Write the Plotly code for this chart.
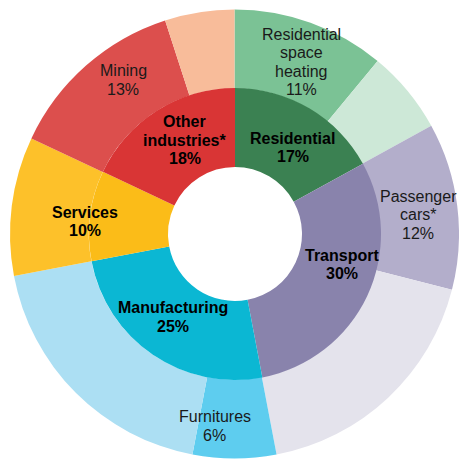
import math
import plotly.graph_objects as go

# ---------------- data ----------------
sector_labels = ["Residential", "Transport", "Manufacturing", "Services", "Other industries*"]
sector_display = ["Residential", "Transport", "Manufacturing", "Services", "Other<br>industries*"]
sector_values = [17, 30, 25, 10, 18]

sub_labels = ["Residential space heating", "Residential (other)", "Passenger cars*", "Transport (other)",
              "Furnitures", "Manufacturing (other)", "Services", "Mining", "Other industries (other)"]
sub_display = ["Residential<br>space<br>heating", "", "Passenger<br>cars*", "",
               "Furnitures", "", "", "Mining", ""]
sub_parents = ["Residential", "Residential", "Transport", "Transport",
               "Manufacturing", "Manufacturing", "Services", "Other industries*", "Other industries*"]
sub_values = [11, 6, 12, 18, 6, 19, 10, 13, 5]

# ---------------- style ----------------
sector_colors = ["#3b8152", "#8983ac", "#0bb7d3", "#fbbc18", "#d93535"]
sub_colors = ["#7bc295", "#cde8d7", "#b3aecb", "#e4e3ec", "#5ecdef", "#acdff3", "#fdc12a", "#dc4f4d", "#f8bc9a"]

# small manual label nudges (pixels: right, down) as in the original artwork
LABEL_NUDGE = {
    "Residential space heating": (4, 2),
    "Passenger cars*": (0, 4),
    "Furnitures": (-20, 7),
    "Mining": (11, -15),
    "Residential": (4, 5),
    "Transport": (11, -15),
    "Manufacturing": (-2, -5),
    "Services": (-5, 6),
    "Other industries*": (7, -4),
}

W, H = 459, 460
CX, CY = 235, 234          # pixel centre inside the figure
R_OUT, R_MID, R_HOLE = 225, 146, 67
FONT = "Liberation Sans, Arial, sans-serif"
LINE = 18.4


def dom(r):
    x0 = max(0.0, (CX - r) / W)
    x1 = min(1.0, (CX + r) / W)
    y0 = max(0.0, 1 - (CY + r) / H)
    y1 = min(1.0, 1 - (CY - r) / H)
    return dict(x=[x0, x1], y=[y0, y1])


fig = go.Figure()
fig.add_trace(go.Pie(
    labels=sub_labels, values=sub_values, sort=False, direction="clockwise", rotation=0,
    hole=R_MID / R_OUT, domain=dom(R_OUT), textinfo="none", showlegend=False,
    marker=dict(colors=sub_colors, line=dict(width=0)), hoverinfo="label+percent",
))
fig.add_trace(go.Pie(
    labels=sector_labels, values=sector_values, sort=False, direction="clockwise", rotation=0,
    hole=R_HOLE / R_MID, domain=dom(R_MID), textinfo="none", showlegend=False,
    marker=dict(colors=sector_colors, line=dict(width=0)), hoverinfo="label+percent",
))

# actual pie geometry as plotly computes it
d = dom(R_OUT)
w = (d["x"][1] - d["x"][0]) * W
h = (d["y"][1] - d["y"][0]) * H
pcx = (d["x"][0] + d["x"][1]) / 2 * W
pcy = (1 - (d["y"][0] + d["y"][1]) / 2) * H
scale = min(w, h) / 2 / R_OUT

annotations = []


def add_label(key, text, frac_mid, radius, bold):
    ang = frac_mid * 2 * math.pi
    dx, dy = LABEL_NUDGE.get(key, (0, 0))
    x = pcx + radius * scale * math.sin(ang) + dx
    y = pcy - radius * scale * math.cos(ang) + dy
    lines = text.split("<br>")
    n = len(lines)
    for i, ln in enumerate(lines):
        annotations.append(dict(
            x=x / W, y=1 - y / H, xref="paper", yref="paper", showarrow=False,
            text=f"<b>{ln}</b>" if bold else ln, xanchor="center", yanchor="middle",
            yshift=-(i - (n - 1) / 2) * LINE,
            font=dict(family=FONT, size=16, color="#000000" if bold else "#1a1a1a"),
        ))


total = sum(sector_values)
# sectors whose only outer slice is itself -> label spans both rings
single = {s for s in sector_labels if sub_parents.count(s) == 1}
cum = 0
for lab, disp, v in zip(sector_labels, sector_display, sector_values):
    mid = (cum + v / 2) / total
    r = (R_HOLE + R_OUT) / 2 if lab in single else (R_HOLE + R_MID) / 2
    add_label(lab, f"{disp}<br>{v}%", mid, r, True)
    cum += v

cum = 0
for lab, disp, v in zip(sub_labels, sub_display, sub_values):
    if disp:
        mid = (cum + v / 2) / total
        add_label(lab, f"{disp}<br>{v}%", mid, (R_MID + R_OUT) / 2, False)
    cum += v

fig.update_layout(
    width=W, height=H, margin=dict(l=0, r=0, t=0, b=0),
    paper_bgcolor="white", plot_bgcolor="white",
    annotations=annotations, showlegend=False,
)
fig.write_html(
    "out.html",
    config={"displayModeBar": False},
    post_script="document.body.style.margin='0';document.body.style.overflow='hidden';",
)
